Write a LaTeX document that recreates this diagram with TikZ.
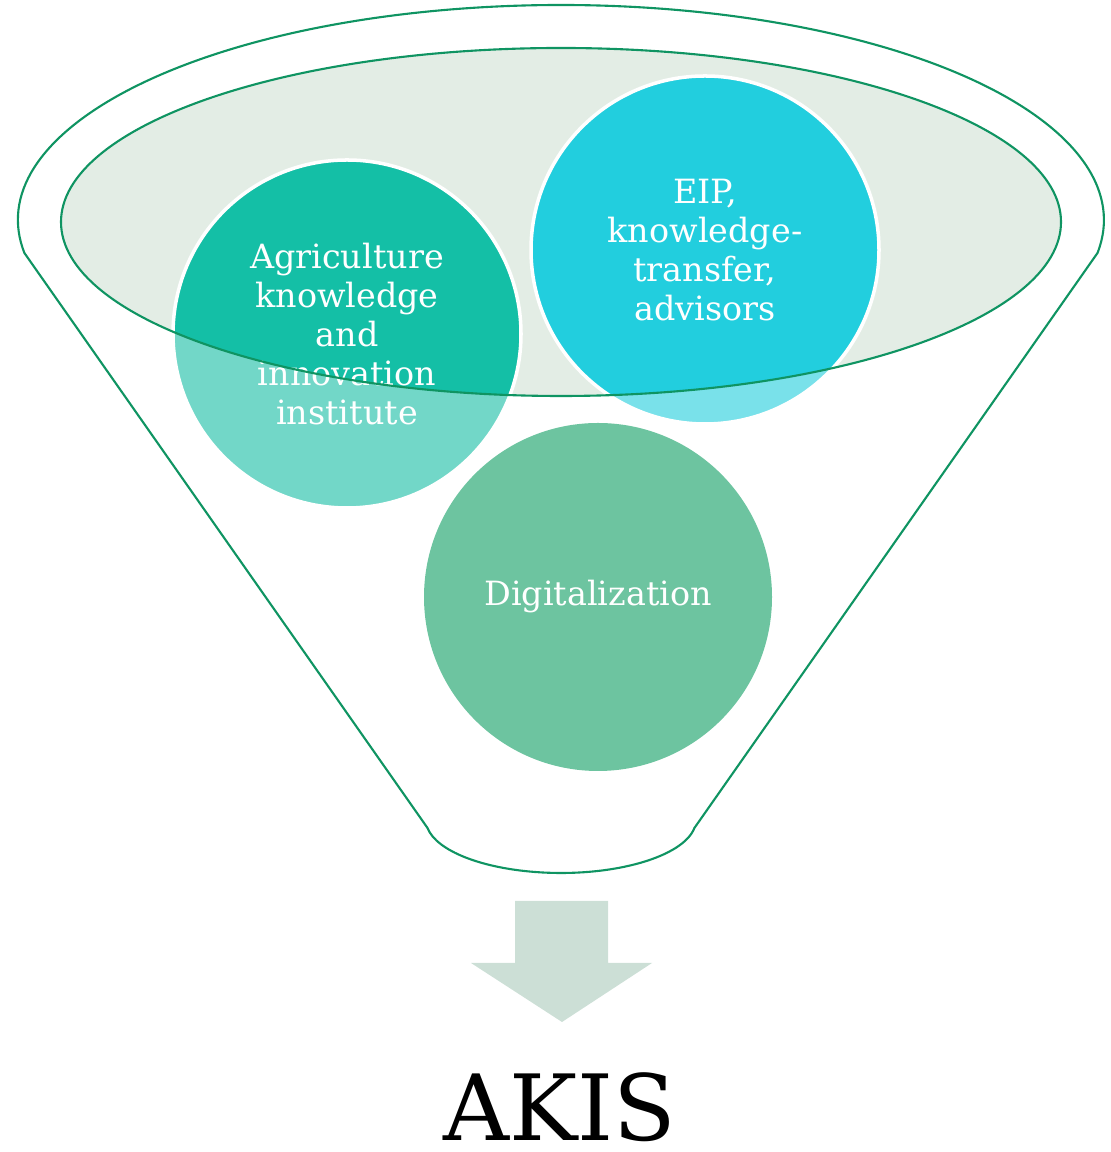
\documentclass[tikz,border=0pt]{standalone}
\usepackage{fontspec}
\setmainfont{DejaVu Serif}
\usepackage{tikz}
\definecolor{rimgreen}{HTML}{0F9462}
\definecolor{mouthfill}{HTML}{E3EDE5}
\definecolor{agriDark}{HTML}{14BFA6}
\definecolor{agriLight}{HTML}{72D7C8}
\definecolor{eipDark}{HTML}{22CEDE}
\definecolor{eipLight}{HTML}{79E1EA}
\definecolor{digiFill}{HTML}{6DC4A0}
\definecolor{arrowFill}{HTML}{CCDFD6}
\tikzstyle{rim} = [draw=rimgreen, line width=0.6pt]
\tikzstyle{bubble} = [circle, minimum size=3.48cm, inner sep=0pt, draw=white,
line width=1pt, text=white, align=center, font=\fontsize{9.5}{11.1}\selectfont]

\begin{document}
\begin{tikzpicture}
\useasboundingbox (0,0) rectangle (11.1,11.52);

\coordinate (mouth) at (5.61,9.30);

% funnel body
\draw[rim] (0.244,8.99) arc[start angle=188.83, end angle=-8.83, x radius=5.43,
y radius=2.15] -- (6.944,3.24) arc[start angle=-8.7, end angle=-171.3,
x radius=1.35, y radius=0.53] -- cycle;
\fill[mouthfill] (mouth) ellipse [x radius=5, y radius=1.74];

\node(agri)[bubble, fill=agriLight, path picture={\fill[agriDark] (mouth)
ellipse [x radius=5, y radius=1.74];}] at (3.47,8.18){Agriculture\\knowledge\\
and\\innovation\\institute};
\node(eip)[bubble, fill=eipLight, path picture={\fill[eipDark] (mouth)
ellipse [x radius=5, y radius=1.74];}] at (7.05,9.02){EIP,\\knowledge-\\
transfer,\\advisors};
\node(digi)[bubble, fill=digiFill, draw=none] at (5.98,5.55){Digitalization};

\draw[rim] (mouth) ellipse [x radius=5, y radius=1.74];

% output arrow
\fill[arrowFill] (5.15,2.51) -- (6.08,2.51) -- (6.08,1.89) -- (6.52,1.89) --
(5.62,1.30) -- (4.71,1.89) -- (5.15,1.89) -- cycle;
\node(akis)[anchor=base, inner sep=0pt, font=\fontsize{26}{30}\selectfont]
at (5.60,0.12){AKIS};

\end{tikzpicture}
\end{document}
